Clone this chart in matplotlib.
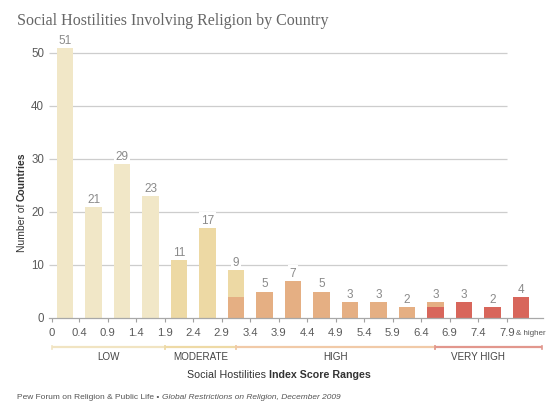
import matplotlib
matplotlib.use('Agg')
import matplotlib.pyplot as plt
from matplotlib.transforms import blended_transform_factory

# ---------------- data ----------------
tick_labels = ['0', '0.4', '0.9', '1.4', '1.9', '2.4', '2.9', '3.4', '3.9',
               '4.4', '4.9', '5.4', '5.9', '6.4', '6.9', '7.4', '7.9']
totals = [51, 21, 29, 23, 11, 17, 9, 5, 7, 5, 3, 3, 2, 3, 3, 2, 4]
low = [51, 21, 29, 23, 0, 0, 0, 0, 0, 0, 0, 0, 0, 0, 0, 0, 0]
moderate = [0, 0, 0, 0, 11, 17, 5, 0, 0, 0, 0, 0, 0, 0, 0, 0, 0]
high = [0, 0, 0, 0, 0, 0, 4, 5, 7, 5, 3, 3, 2, 1, 0, 0, 0]
very_high = [0, 0, 0, 0, 0, 0, 0, 0, 0, 0, 0, 0, 0, 2, 3, 2, 4]
categories = ['LOW', 'MODERATE', 'HIGH', 'VERY HIGH']
y_ticks = [0, 10, 20, 30, 40, 50]

# ---------------- style ----------------
C_LOW = '#F1E7C7'
C_MOD = '#EDD9A4'
C_HIGH = '#E5AF83'
C_VHIGH = '#D8665B'
BAND_COLORS = ['#F1E4C2', '#EEDAA6', '#F1CAA8', '#E2978D']
SANS = 'Liberation Sans'

W, H = 560, 410
fig = plt.figure(figsize=(W / 100, H / 100), dpi=100)
renderer = fig.canvas.get_renderer()

UNIT = 28.5        # px per bar slot
X0 = 65            # px of first bar center
ax_left_px, ax_right_px = 49, 543
base_px = 319
px_per_y = 5.3
ymax = 52
ax = fig.add_axes([ax_left_px / W, 1 - base_px / H,
                   (ax_right_px - ax_left_px) / W, ymax * px_per_y / H])
xl0 = (ax_left_px - X0) / UNIT
xl1 = (ax_right_px - X0) / UNIT
ax.set_xlim(xl0, xl1)
ax.set_ylim(0, ymax)
for s in ax.spines.values():
    s.set_visible(False)

n = len(totals)
pos = list(range(n))
bw = 16.5 / UNIT

# gridlines
grid_end = n - 1 - 0.5
for y in y_ticks[1:]:
    ax.plot([xl0, grid_end], [y, y], color='#cdcdcd', lw=0.9, zorder=1,
            solid_capstyle='butt')

# stacked bars: very high, high, moderate, low
bottom = [0] * n
for vals, col in [(very_high, C_VHIGH), (high, C_HIGH), (moderate, C_MOD), (low, C_LOW)]:
    ax.bar(pos, vals, width=bw, bottom=bottom, color=col, zorder=2, linewidth=0)
    bottom = [b + v for b, v in zip(bottom, vals)]

# value labels
for p, t in zip(pos, totals):
    ax.annotate(str(t), (p, t), xytext=(0, 1.5), textcoords='offset points',
                ha='center', va='bottom', fontsize=8.5, color='#8a8a8a',
                family=SANS, zorder=4,
                bbox=dict(boxstyle='square,pad=0.12', fc='white', ec='none'))

# baseline
ax.plot([xl0, xl1], [0, 0], color='#a8a8a8', lw=0.9, zorder=3, clip_on=False)

# y tick labels
ax.set_yticks([])
for y in y_ticks:
    ax.text(xl0 - 5 / UNIT, y, str(y), ha='right', va='center', fontsize=8.3,
            color='#5a5a5a', family=SANS)

# x ticks
tick_pos = [-0.45] + [k - 0.5 for k in range(1, n)]
ax.set_xticks(tick_pos)
ax.set_xticklabels(tick_labels, fontsize=8.1, color='#5a5a5a', family=SANS)
ax.tick_params(axis='x', length=3.2, width=0.8, color='#a0a0a0', pad=3.5)

trans = blended_transform_factory(ax.transData, ax.transAxes)
axh = ymax * px_per_y
ax.text((516 - X0) / UNIT, -(333.8 - base_px) / axh, '& higher', transform=trans,
        fontsize=5.8, color='#555555', family=SANS, ha='left', va='center')

# category bands
band_edges = [-0.45, 3.5, 6, 13, xl1 - 0.02]
band_y = -(348.3 - base_px) / axh
lab_y = -(357.5 - base_px) / axh
tick_h = 1.8 / axh
for i, (name, col) in enumerate(zip(categories, BAND_COLORS)):
    a, b = band_edges[i], band_edges[i + 1]
    ax.plot([a, b], [band_y, band_y], color=col, lw=1.6, transform=trans,
            clip_on=False, solid_capstyle='butt')
    for e in (a, b):
        ax.plot([e, e], [band_y - tick_h, band_y + tick_h], color=col, lw=1.2,
                transform=trans, clip_on=False)
    cx = (a + min(b, n - 1)) / 2
    ax.text(cx, lab_y, name, transform=trans, ha='center', va='center',
            fontsize=7.1, color='#444444', family=SANS)


# ---------------- mixed-style texts ----------------
def hrun(parts, x_px, y_px, size, color, align='center'):
    texts = []
    for s, w, st in parts:
        t = fig.text(0, 0, s, fontsize=size, fontweight=w, fontstyle=st,
                     color=color, va='center', ha='left', family=SANS)
        texts.append(t)
    gap = size * 100 / 72 * 0.28
    widths = [t.get_window_extent(renderer).width for t in texts]
    total = sum(widths) + gap * (len(texts) - 1)
    x = x_px - total / 2 if align == 'center' else x_px
    for t, w in zip(texts, widths):
        t.set_position((x / W, 1 - y_px / H))
        x += w + gap


def vrun(parts, x_px, y_px, size, color):
    texts = []
    for s, w, st in parts:
        t = fig.text(0, 0, s, fontsize=size, fontweight=w, fontstyle=st,
                     color=color, va='center', ha='left', rotation=90,
                     rotation_mode='anchor', family=SANS)
        texts.append(t)
    gap = size * 100 / 72 * 0.28
    heights = [t.get_window_extent(renderer).height for t in texts]
    total = sum(heights) + gap * (len(texts) - 1)
    y = y_px + total / 2
    for t, h in zip(texts, heights):
        t.set_position((x_px / W, 1 - y / H))
        y -= h + gap


hrun([('Social Hostilities', 'normal', 'normal'),
      ('Index Score Ranges', 'bold', 'normal')], 278.5, 375, 7.7, '#333333')
vrun([('Number of', 'normal', 'normal'),
      ('Countries', 'bold', 'normal')], 21.7, 202, 7.5, '#333333')
hrun([('Pew Forum on Religion & Public Life \u2022', 'normal', 'normal'),
      ('Global Restrictions on Religion, December 2009', 'normal', 'italic')],
     17, 398, 6.0, '#555555', align='left')

fig.text(17 / W, 1 - 25 / H, 'Social Hostilities Involving Religion by Country',
         fontsize=11.5, family='Liberation Serif', color='#666666',
         ha='left', va='baseline')

fig.savefig('out.png', dpi=100)
